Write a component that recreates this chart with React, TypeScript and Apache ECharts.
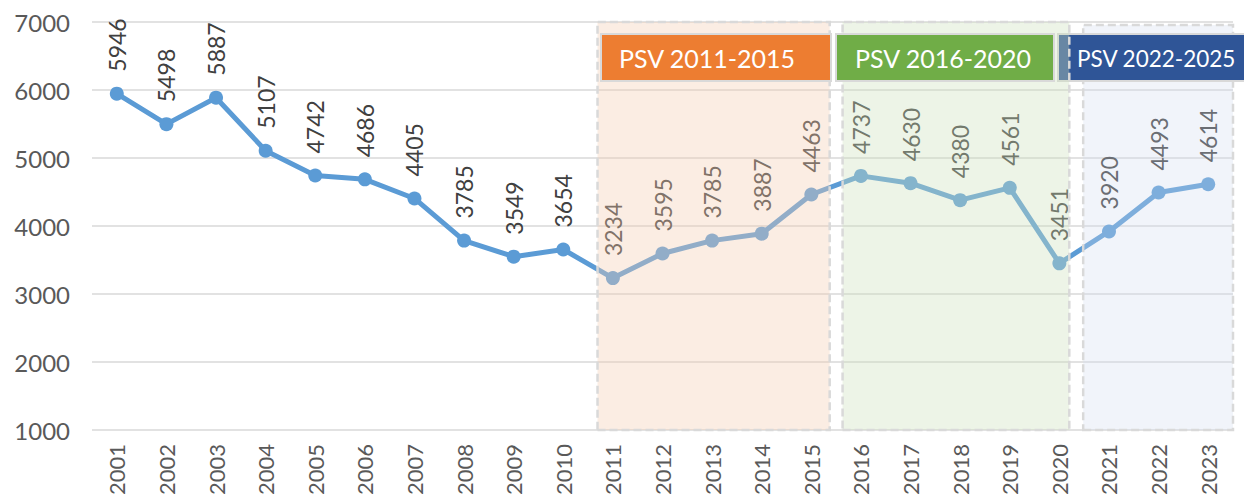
import React, { useEffect, useRef } from "react";
import * as echarts from "echarts";

const years = ["2001","2002","2003","2004","2005","2006","2007","2008","2009","2010","2011","2012","2013","2014","2015","2016","2017","2018","2019","2020","2021","2022","2023"];
const values = [5946,5498,5887,5107,4742,4686,4405,3785,3549,3654,3234,3595,3785,3887,4463,4737,4630,4380,4561,3451,3920,4493,4614];
const yTicks = { min: 1000, max: 7000, interval: 1000 };
// overlay periods in category-index units (hidden value axis)
const periodOrange = { x0: 9.69, x1: 14.37, y0: 956, y1: 7044 };
const periodGreen = { x0: 14.63, x1: 19.2, y0: 926, y1: 7029 };
const periodBlue = { x0: 19.48, x1: 22.8, y0: 1000, y1: 6956 };
const headerLabels = ["PSV 2011-2015", "PSV 2016-2020", "PSV 2022-2025"];

const FONT = "Lato, 'Noto Sans', sans-serif";

function overlaySeries(p: any, color: string, z: number) {
  return {
    type: "line",
    xAxisIndex: 1,
    yAxisIndex: 0,
    data: [],
    z,
    silent: true,
    markArea: {
      silent: true,
      z,
      itemStyle: {
        color,
        borderColor: "#D9D9D9",
        borderWidth: 2.5,
        borderType: [8, 4],
      },
      data: [[{ coord: [p.x0, p.y0] }, { coord: [p.x1, p.y1] }]],
    },
  };
}

function header(x: number, w: number, text: string, fill: string, z: number, tx: number, fs: number) {
  return {
    type: "group",
    z,
    children: [
      {
        type: "rect",
        z,
        shape: { x, y: 34, width: w, height: 47 },
        style: { fill, stroke: "#D9D9D9", lineWidth: 2 },
      },
      {
        type: "text",
        z: z + 1,
        x: tx,
        y: 58,
        style: {
          text,
          fill: "#FFFFFF",
          font: `${fs}px ${FONT}`,
          textAlign: "left",
          textVerticalAlign: "middle",
        },
      },
    ],
  };
}

export default function App() {
  const ref = useRef<HTMLDivElement>(null);
  useEffect(() => {
    if (!ref.current) return;
    const chart = echarts.init(ref.current, null, { renderer: "svg" });
    chart.setOption({
      animation: false,
      backgroundColor: "#FFFFFF",
      grid: { left: 92, right: 11, top: 22, bottom: 69, containLabel: false },
      xAxis: [
        {
          type: "category",
          data: years,
          boundaryGap: true,
          axisLine: { show: false },
          axisTick: { show: false },
          axisLabel: {
            rotate: 90,
            margin: 14,
            fontSize: 22,
            fontFamily: FONT,
            color: "#595959",
          },
        },
        { type: "value", min: -0.5, max: 22.5, show: false },
      ],
      yAxis: {
        type: "value",
        min: yTicks.min,
        max: yTicks.max,
        interval: yTicks.interval,
        axisLine: { show: false },
        axisTick: { show: false },
        axisLabel: {
          margin: 22,
          fontSize: 24,
          fontFamily: FONT,
          color: "#595959",
          formatter: (v: number) => String(v),
        },
        splitLine: { lineStyle: { color: "#D9D9D9", width: 1.5 } },
      },
      series: [
        {
          type: "line",
          data: values,
          z: 2,
          symbol: "circle",
          symbolSize: 14,
          lineStyle: { color: "#5B9BD5", width: 5 },
          itemStyle: { color: "#5B9BD5" },
          label: {
            show: true,
            position: "top",
            distance: 15,
            rotate: 90,
            align: "left",
            verticalAlign: "middle",
            fontSize: 23,
            fontFamily: FONT,
            color: "#404040",
          },
        },
        overlaySeries(periodBlue, "rgba(210,220,238,0.3)", 3),
        overlaySeries(periodOrange, "rgba(244,205,178,0.36)", 5),
        overlaySeries(periodGreen, "rgba(205,225,189,0.36)", 5),
      ],
      graphic: [
        header(1058, 200, headerLabels[2], "#2F5597", 4, 1077, 22.5),
        header(601, 230, headerLabels[0], "#ED7D31", 8, 619, 25),
        header(836, 218, headerLabels[1], "#70AD47", 8, 855, 25),
      ],
    });
    return () => chart.dispose();
  }, []);
  return (
    <div
      ref={ref}
      style={{ position: "fixed", left: 0, top: 0, width: 1244, height: 499 }}
    />
  );
}
